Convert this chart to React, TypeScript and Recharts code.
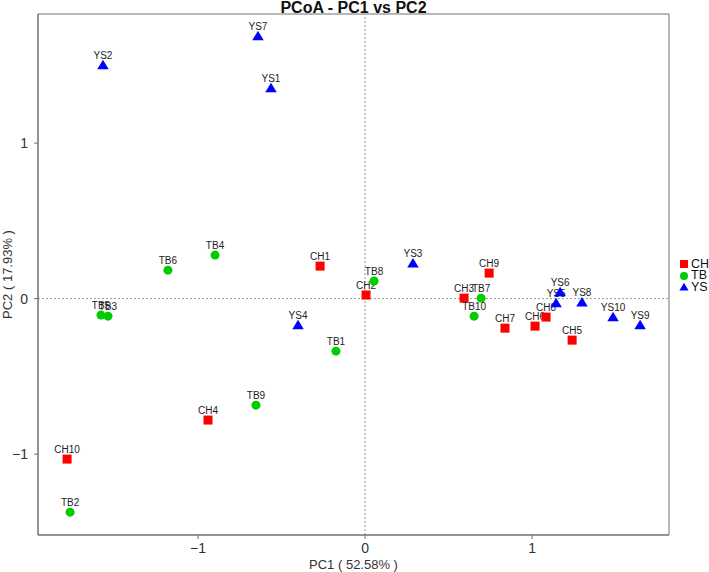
import { ScatterChart, Scatter, XAxis, YAxis, ReferenceLine, ReferenceArea } from "recharts";

const W = 709;
const H = 572;
const FONT = "'Liberation Sans', Arial, sans-serif";
const AXIS = "#707070";
const TEXT = "#333";

const RED = "#ff0000";
const GREEN = "#00cc00";
const BLUE = "#0000ff";

// sample names and PCoA coordinates per group
const chNames = ["CH1", "CH2", "CH3", "CH4", "CH5", "CH6", "CH7", "CH8", "CH9", "CH10"];
const chPC1 = [-0.269, 0.006, 0.593, -0.94, 1.24, 1.018, 0.838, 1.084, 0.743, -1.784];
const chPC2 = [0.209, 0.023, 0.003, -0.781, -0.267, -0.177, -0.19, -0.119, 0.164, -1.032];

const tbNames = ["TB1", "TB2", "TB3", "TB4", "TB5", "TB6", "TB7", "TB8", "TB9", "TB10"];
const tbPC1 = [-0.174, -1.766, -1.539, -0.898, -1.581, -1.18, 0.695, 0.054, -0.653, 0.653];
const tbPC2 = [-0.338, -1.373, -0.113, 0.28, -0.106, 0.183, 0.003, 0.113, -0.685, -0.113];

const ysNames = ["YS1", "YS2", "YS3", "YS4", "YS5", "YS6", "YS7", "YS8", "YS9", "YS10"];
const ysPC1 = [-0.563, -1.569, 0.287, -0.401, 1.144, 1.168, -0.641, 1.299, 1.647, 1.485];
const ysPC2 = [1.354, 1.502, 0.228, -0.17, -0.029, 0.042, 1.688, -0.023, -0.17, -0.119];

const xTicks = [-1, 0, 1];
const yTicks = [-1, 0, 1];
const X_DOMAIN: [number, number] = [-1.958, 1.82];
const Y_DOMAIN: [number, number] = [-1.52, 1.83];

const toPoints = (names: string[], xs: number[], ys: number[]) =>
  names.map((name, i) => ({ name, x: xs[i], y: ys[i] }));

const chData = toPoints(chNames, chPC1, chPC2);
const tbData = toPoints(tbNames, tbPC1, tbPC2);
const ysData = toPoints(ysNames, ysPC1, ysPC2);

if (typeof document !== "undefined") document.body.style.margin = "0";

type Kind = "square" | "circle" | "triangle";

function Glyph({ cx, cy, kind, color, size }: { cx: number; cy: number; kind: Kind; color: string; size: number }) {
  const h = size / 2;
  if (kind === "square") return <rect x={cx - h} y={cy - h} width={size} height={size} fill={color} />;
  if (kind === "circle") return <circle cx={cx} cy={cy} r={h} fill={color} />;
  return <polygon points={`${cx},${cy - h * 1.05} ${cx - h * 1.15},${cy + h * 0.85} ${cx + h * 1.15},${cy + h * 0.85}`} fill={color} />;
}

const makeShape = (kind: Kind, color: string, size: number) => (p: any) => {
  if (p.cx == null || p.cy == null) return <g />;
  return (
    <g>
      <text x={p.cx} y={p.cy - 6} textAnchor="middle" fontSize={10} fill="#222" fontFamily={FONT}>
        {p.payload.name}
      </text>
      <Glyph cx={p.cx} cy={p.cy} kind={kind} color={color} size={size} />
    </g>
  );
};

const fmt = (v: number) => (v < 0 ? `\u2212${Math.abs(v)}` : `${v}`);

const legendItems: { label: string; kind: Kind; color: string }[] = [
  { label: "CH", kind: "square", color: RED },
  { label: "TB", kind: "circle", color: GREEN },
  { label: "YS", kind: "triangle", color: BLUE },
];

export default function App() {
  return (
    <div style={{ position: "relative", width: W, height: H, background: "#fff" }}>
      <ScatterChart width={W} height={H} margin={{ top: 14, right: 40, bottom: 0, left: 0 }}>
        <XAxis
          type="number"
          dataKey="x"
          domain={X_DOMAIN}
          allowDataOverflow
          ticks={xTicks}
          tickFormatter={fmt}
          height={37}
          stroke={AXIS}
          tickSize={4}
          tickMargin={4}
          tick={{ fill: TEXT, fontSize: 14, fontFamily: FONT }}
          label={(props: any) => {
            const vb = props.viewBox;
            return (
              <text x={vb.x + vb.width / 2} y={vb.y + 34} textAnchor="middle" fontSize={13} fill={TEXT} fontFamily={FONT}>
                PC1 ( 52.58% )
              </text>
            );
          }}
        />
        <YAxis
          type="number"
          dataKey="y"
          domain={Y_DOMAIN}
          allowDataOverflow
          ticks={yTicks}
          tickFormatter={fmt}
          width={38}
          stroke={AXIS}
          tickSize={4}
          tickMargin={6}
          tick={{ fill: TEXT, fontSize: 14, fontFamily: FONT }}
          label={(props: any) => {
            const vb = props.viewBox;
            const cy = vb.y + vb.height / 2;
            return (
              <text x={12} y={cy} textAnchor="middle" fontSize={13} fill={TEXT} fontFamily={FONT} transform={`rotate(-90 12 ${cy})`}>
                PC2 ( 17.93% )
              </text>
            );
          }}
        />
        <ReferenceArea
          x1={X_DOMAIN[0]}
          x2={X_DOMAIN[1]}
          y1={Y_DOMAIN[0]}
          y2={Y_DOMAIN[1]}
          fill="none"
          fillOpacity={0}
          stroke={AXIS}
          strokeWidth={1}
          ifOverflow="visible"
        />
        <ReferenceLine x={0} stroke="#999" strokeDasharray="2 2" />
        <ReferenceLine y={0} stroke="#999" strokeDasharray="2 2" />
        <Scatter data={chData} shape={makeShape("square", RED, 9)} isAnimationActive={false} />
        <Scatter data={tbData} shape={makeShape("circle", GREEN, 9)} isAnimationActive={false} />
        <Scatter data={ysData} shape={makeShape("triangle", BLUE, 10)} isAnimationActive={false} />
      </ScatterChart>

      <div
        style={{
          position: "absolute",
          zIndex: 2,
          left: 38,
          width: 631,
          top: 0,
          textAlign: "center",
          fontFamily: "'Liberation Sans Narrow', 'Liberation Sans', sans-serif",
          fontWeight: "bold",
          fontSize: 16,
          lineHeight: "16px",
          color: "#111",
        }}
      >
        PCoA - PC1 vs PC2
      </div>

      {legendItems.map((it, i) => (
        <div
          key={it.label}
          style={{
            position: "absolute",
            zIndex: 2,
            left: 678,
            width: 31,
            top: 258 + i * 11.5,
            height: 12,
            display: "flex",
            alignItems: "center",
            whiteSpace: "nowrap",
          }}
        >
          <svg width={12} height={12} style={{ flex: "none" }}>
            <Glyph cx={6} cy={6} kind={it.kind} color={it.color} size={8} />
          </svg>
          <span style={{ fontFamily: FONT, fontSize: 12.5, color: "#111", lineHeight: "11px", marginLeft: 1 }}>{it.label}</span>
        </div>
      ))}
    </div>
  );
}
